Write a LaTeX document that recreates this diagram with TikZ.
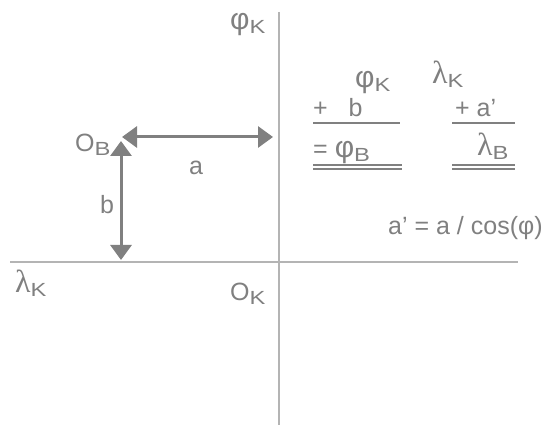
\documentclass[tikz,border=0pt]{standalone}
\usepackage{fontspec}
\setmainfont{Liberation Sans}
\newfontfamily\serifgreek{Liberation Serif}
\usepackage{xcolor}
\usepackage{graphicx}
\usetikzlibrary{arrows.meta,positioning,calc}
\definecolor{txtgray}{HTML}{808080}
\definecolor{axisgray}{HTML}{B4B4B4}
\newcommand{\lowsub}[1]{\raisebox{-4pt}{\scalebox{1.25}[1]{\fontsize{19}{19}\selectfont #1}}}
\newcommand{\gphi}{{\fontsize{30}{30}\selectfont φ}}
\newcommand{\glam}{{\serifgreek\fontsize{32}{32}\selectfont λ}}
\tikzset{
  lbl/.style={text=txtgray, font=\fontsize{25}{29}\selectfont, inner sep=0pt},
  axis/.style={draw=axisgray, line width=1.5pt},
  dimarr/.style={draw=txtgray, line width=3pt,
                 {Triangle[length=15pt,width=21pt]}-{Triangle[length=15pt,width=21pt]}},
  uline/.style={draw=txtgray, line width=1.5pt},
}

\begin{document}
\begin{tikzpicture}[x=1pt, y=-1pt]
\useasboundingbox (0,0) rectangle (545,427);

% AXES
\coordinate (ntop) at (279,12);
\coordinate (nbot) at (279,425);
\coordinate (wend) at (10,262);
\coordinate (eend) at (518,262);
\draw[axis] (ntop) -- (nbot);
\draw[axis] (wend) -- (eend);
\node[lbl, anchor=base west] (phik) at (230,30) {\gphi\lowsub{K}};
\node[lbl, anchor=base west] (lamk) at (15,292) {\glam\lowsub{K}};
\node[lbl, anchor=base west] (ok) at (230,300) {O\lowsub{K}};

% OFFSET a AND b
\node[lbl, anchor=base west] (ob) at (75,152) {O\lowsub{B}};
\coordinate (acorner) at (122,137);
\coordinate (aend) at (273,137);
\coordinate (bcorner) at (121,141);
\coordinate (bend) at (121,260);
\draw[dimarr] (acorner) -- (aend);
\draw[dimarr] (bcorner) -- (bend);
\node[lbl] (la) at (196,168) {a};
\node[lbl] (lb) at (107,205) {b};

% SUMS
\node[lbl, anchor=base west] (colphi) at (355,88) {\gphi\lowsub{K}};
\node[lbl, anchor=base west] (collam) at (432,84) {\glam\lowsub{K}};
\node[lbl, anchor=base west] (addb) at (313,117) {+\ \ \ b};
\node[lbl, anchor=base west] (adda) at (455,117) {+ a’};
\node[lbl, anchor=base west] (sumphi) at (313,158) {=\ \gphi\lowsub{B}};
\node[lbl, anchor=base west] (sumlam) at (477,156) {\glam\lowsub{B}};
\draw[uline] ($(addb.base west)+(0,6)$) -- ++(87,0);
\draw[uline] ($(adda.base west)+(-3,6)$) -- ++(63,0);
\draw[uline] ($(sumphi.base west)+(0,7)$) -- ++(89,0);
\draw[uline] ($(sumphi.base west)+(0,11)$) -- ++(89,0);
\draw[uline] ($(sumlam.base west)+(-25,9)$) -- ++(63,0);
\draw[uline] ($(sumlam.base west)+(-25,13)$) -- ++(63,0);

% a' FORMULA
\node[lbl, anchor=base west] (aprime) at (388,235) {a’ = a / cos(φ)};

\end{tikzpicture}
\end{document}
